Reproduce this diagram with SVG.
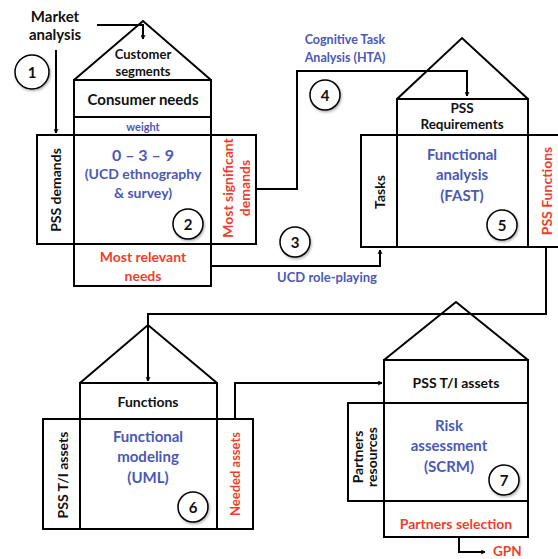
<svg xmlns="http://www.w3.org/2000/svg" width="558" height="559" viewBox="0 0 558 559">
<defs>
<marker id="ah" viewBox="0 0 10 10" refX="9" refY="5" markerWidth="5" markerHeight="5" orient="auto" markerUnits="userSpaceOnUse">
<path d="M1,1 L9,5 L1,9" fill="none" stroke="#000" stroke-width="2"/>
</marker>
<filter id="sh" x="-30%" y="-30%" width="160%" height="160%"><feDropShadow dx="1" dy="1.5" stdDeviation="1" flood-color="#000" flood-opacity="0.3"/></filter>
</defs>
<style>
text{font-family:Lato,"Open Sans","Liberation Sans",sans-serif;font-weight:bold;text-anchor:middle}
.k{fill:#111}
.b{fill:#4b59b4}
.r{fill:#ef3e2b}
.s{fill:none;stroke:#000;stroke-width:2}
.c{fill:#fff;stroke:#000;stroke-width:1.5;filter:url(#sh)}
.n{font-size:15px;fill:#111}
</style>
<rect width="558" height="559" fill="#fff"/>

<g id="house1">
<path class="s" d="M74,80 L143,21 L211,80"/>
<rect class="s" x="74" y="80" width="137" height="206"/>
<line class="s" x1="74" y1="117" x2="211" y2="117"/>
<rect class="s" x="37" y="135" width="219" height="109"/>
<text class="k" x="143" y="59" font-size="13">Customer</text>
<text class="k" x="143" y="76" font-size="13">segments</text>
<text class="k" x="143" y="105" font-size="15">Consumer needs</text>
<text class="b" x="143" y="131" font-size="11">weight</text>
<text class="b" x="143" y="161" font-size="16">0 – 3 – 9</text>
<text class="b" x="143" y="179" font-size="14">(UCD ethnography</text>
<text class="b" x="143" y="198" font-size="14">&amp; survey)</text>
<text class="k" font-size="14" transform="translate(61,190) rotate(-90)">PSS demands</text>
<text class="r" font-size="14" transform="translate(233,188) rotate(-90)">Most significant</text>
<text class="r" font-size="14" transform="translate(250,188) rotate(-90)">demands</text>
<text class="r" x="143" y="262" font-size="14">Most relevant</text>
<text class="r" x="143" y="281" font-size="14">needs</text>
<circle class="c" cx="188" cy="224" r="15"/>
<text class="n" x="188" y="229.5">2</text>
</g>

<g id="market">
<text class="k" x="55" y="22" font-size="15">Market</text>
<text class="k" x="55" y="40" font-size="15">analysis</text>
<circle class="c" cx="32" cy="72" r="17"/>
<text class="n" x="32" y="77.5">1</text>
</g>

<g id="house2">
<path class="s" d="M397,99 L462,38 L528,99"/>
<rect class="s" x="397" y="99" width="131" height="148"/>
<path class="s" d="M562,135 L361,135 L361,247 L562,247"/>
<text class="k" x="462" y="113" font-size="13.5">PSS</text>
<text class="k" x="462" y="129" font-size="13.5">Requirements</text>
<text class="b" x="462" y="160" font-size="15">Functional</text>
<text class="b" x="462" y="180" font-size="15">analysis</text>
<text class="b" x="462" y="201" font-size="15">(FAST)</text>
<text class="k" font-size="14" transform="translate(385,192) rotate(-90)">Tasks</text>
<text class="r" font-size="14" transform="translate(552,191) rotate(-90)">PSS Functions</text>
<circle class="c" cx="502" cy="225" r="15"/>
<text class="n" x="502" y="230.5">5</text>
</g>

<g id="house3">
<path class="s" d="M80,383 L148,325 L217,383"/>
<rect class="s" x="80" y="383" width="137" height="146"/>
<rect class="s" x="43" y="419" width="210" height="110"/>
<text class="k" x="148" y="407" font-size="14">Functions</text>
<text class="b" x="148" y="442" font-size="15">Functional</text>
<text class="b" x="148" y="462" font-size="15">modeling</text>
<text class="b" x="148" y="483" font-size="15">(UML)</text>
<text class="k" font-size="14" transform="translate(68,475) rotate(-90)">PSS T/I assets</text>
<text class="r" font-size="13" transform="translate(240,474) rotate(-90)">Needed assets</text>
<circle class="c" cx="193" cy="507" r="15"/>
<text class="n" x="193" y="512.5">6</text>
</g>

<g id="house4">
<path class="s" d="M384,360 L456,302 L528,360"/>
<rect class="s" x="384" y="360" width="144" height="177"/>
<line class="s" x1="384" y1="403" x2="528" y2="403"/>
<line class="s" x1="384" y1="501" x2="528" y2="501"/>
<rect class="s" x="348" y="403" width="36" height="98"/>
<text class="k" x="456" y="388" font-size="14">PSS T/I assets</text>
<text class="b" x="449" y="431" font-size="15">Risk</text>
<text class="b" x="449" y="451" font-size="15">assessment</text>
<text class="b" x="449" y="472" font-size="15">(SCRM)</text>
<text class="k" font-size="14" transform="translate(363,457) rotate(-90)">Partners</text>
<text class="k" font-size="14" transform="translate(377,457) rotate(-90)">resources</text>
<text class="r" x="456" y="529" font-size="14">Partners selection</text>
<circle class="c" cx="504" cy="480" r="15"/>
<text class="n" x="504" y="485.5">7</text>
</g>

<g id="connectors">
<polyline class="s" points="97,25 143,25 143,39" marker-end="url(#ah)"/>
<polyline class="s" points="56,50 56,133" marker-end="url(#ah)"/>
<polyline class="s" points="256,189 297,189 297,71 467,71 467,96" marker-end="url(#ah)"/>
<polyline class="s" points="211,266 380,266 380,250" marker-end="url(#ah)"/>
<polyline class="s" points="546,247 546,314 148,314 148,381" marker-end="url(#ah)"/>
<polyline class="s" points="235,419 235,383 382,383" marker-end="url(#ah)"/>
<polyline class="s" points="459,537 459,552 485,552" marker-end="url(#ah)"/>
<text class="b" x="345" y="44" font-size="12.5">Cognitive Task</text>
<text class="b" x="345" y="62" font-size="12.5">Analysis (HTA)</text>
<text class="b" x="327" y="282" font-size="13">UCD role-playing</text>
<circle class="c" cx="325" cy="95" r="15"/>
<text class="n" x="325" y="100.5">4</text>
<circle class="c" cx="295" cy="242" r="15"/>
<text class="n" x="295" y="247.5">3</text>
<text class="r" x="493" y="556" font-size="13.5" style="text-anchor:start">GPN</text>
</g>
</svg>
